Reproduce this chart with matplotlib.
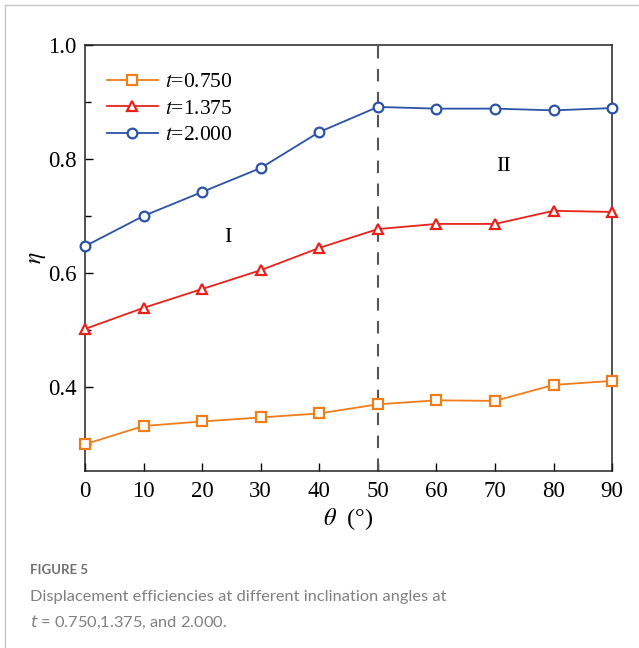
import matplotlib
matplotlib.use('Agg')
import matplotlib.pyplot as plt
from matplotlib.lines import Line2D

theta = [0, 10, 20, 30, 40, 50, 60, 70, 80, 90]
eta_0750 = [0.300, 0.332, 0.340, 0.347, 0.354, 0.370, 0.377, 0.376, 0.404, 0.411]
eta_1375 = [0.502, 0.539, 0.572, 0.605, 0.644, 0.677, 0.686, 0.686, 0.709, 0.707]
eta_2000 = [0.647, 0.700, 0.742, 0.784, 0.847, 0.891, 0.888, 0.888, 0.885, 0.889]
labels = ['0.750', '1.375', '2.000']

plt.rcParams['font.family'] = ['Liberation Serif', 'DejaVu Serif']
plt.rcParams['mathtext.fontset'] = 'stix'

fig = plt.figure(figsize=(6.39, 6.48), dpi=100)
ax = fig.add_axes([0.133, 0.273, 0.825, 0.658])

ax.plot(theta, eta_0750, '-s', color='#f07d1a', mfc='white', mec='#f07d1a',
        ms=6.5, mew=1.6, lw=1.3, label='$t$=' + labels[0], clip_on=False, zorder=3)
ax.plot(theta, eta_1375, '-^', color='#e8221b', mfc='white', mec='#e8221b',
        ms=7.5, mew=1.6, lw=1.3, label='$t$=' + labels[1], clip_on=False, zorder=3)
ax.plot(theta, eta_2000, '-o', color='#2a52a6', mfc='white', mec='#2a52a6',
        ms=7, mew=1.6, lw=1.3, label='$t$=' + labels[2], clip_on=False, zorder=3)

ax.axvline(50, color='#5a5552', lw=1.5, dashes=(6, 5), zorder=2)

ax.set_xlim(0, 90)
ax.set_ylim(0.253, 1.0)
ax.set_xticks(theta)
ax.set_yticks([0.4, 0.6, 0.8, 1.0])
ax.set_yticks([0.3, 0.5, 0.7, 0.9], minor=True)
ax.tick_params(axis='both', direction='in', labelsize=16.5, length=6, width=1,
               top=False, right=False, pad=6)
ax.tick_params(axis='x', pad=7)
ax.tick_params(axis='y', which='minor', direction='in', length=4, width=1)
for s in ax.spines.values():
    s.set_linewidth(1.1)
    s.set_color('#222222')

ax.set_xlabel(r'$\theta$  (°)', fontsize=17.5, labelpad=3)
ax.set_ylabel(r'$\eta$', fontsize=17, labelpad=0)

ax.text(24.4, 0.662, 'I', fontsize=16, ha='center', va='center')
ax.text(71.4, 0.786, 'II', fontsize=16, ha='center', va='center')

ax.legend(loc='upper left', bbox_to_anchor=(0.0, 0.986), frameon=False,
          fontsize=15.5, handlelength=2.4, handletextpad=0.3, labelspacing=0.3,
          borderaxespad=0.6)

# outer frame and caption
fig.add_artist(Line2D([4.5 / 639, 4.5 / 639], [0, 1 - 4.5 / 648], color='#c8c8c8', lw=1))
fig.add_artist(Line2D([4.5 / 639, 1], [1 - 4.5 / 648, 1 - 4.5 / 648], color='#c8c8c8', lw=1))

cap_font = ['Lato', 'DejaVu Sans']
fig.text(30 / 639, 1 - 570 / 648, 'FIGURE 5', fontsize=9.5, color='#707070',
         family=cap_font, fontweight='bold', va='center')
fig.text(30 / 639, 1 - 597 / 648,
         'Displacement efficiencies at different inclination angles at',
         fontsize=11.8, color='#808080', family=cap_font, va='center')
fig.text(30 / 639, 1 - 622 / 648, '$t$ = 0.750,1.375, and 2.000.',
         fontsize=11.8, color='#808080', family=cap_font, va='center',
         math_fontfamily='dejavusans')

fig.savefig('out.png', dpi=100)
